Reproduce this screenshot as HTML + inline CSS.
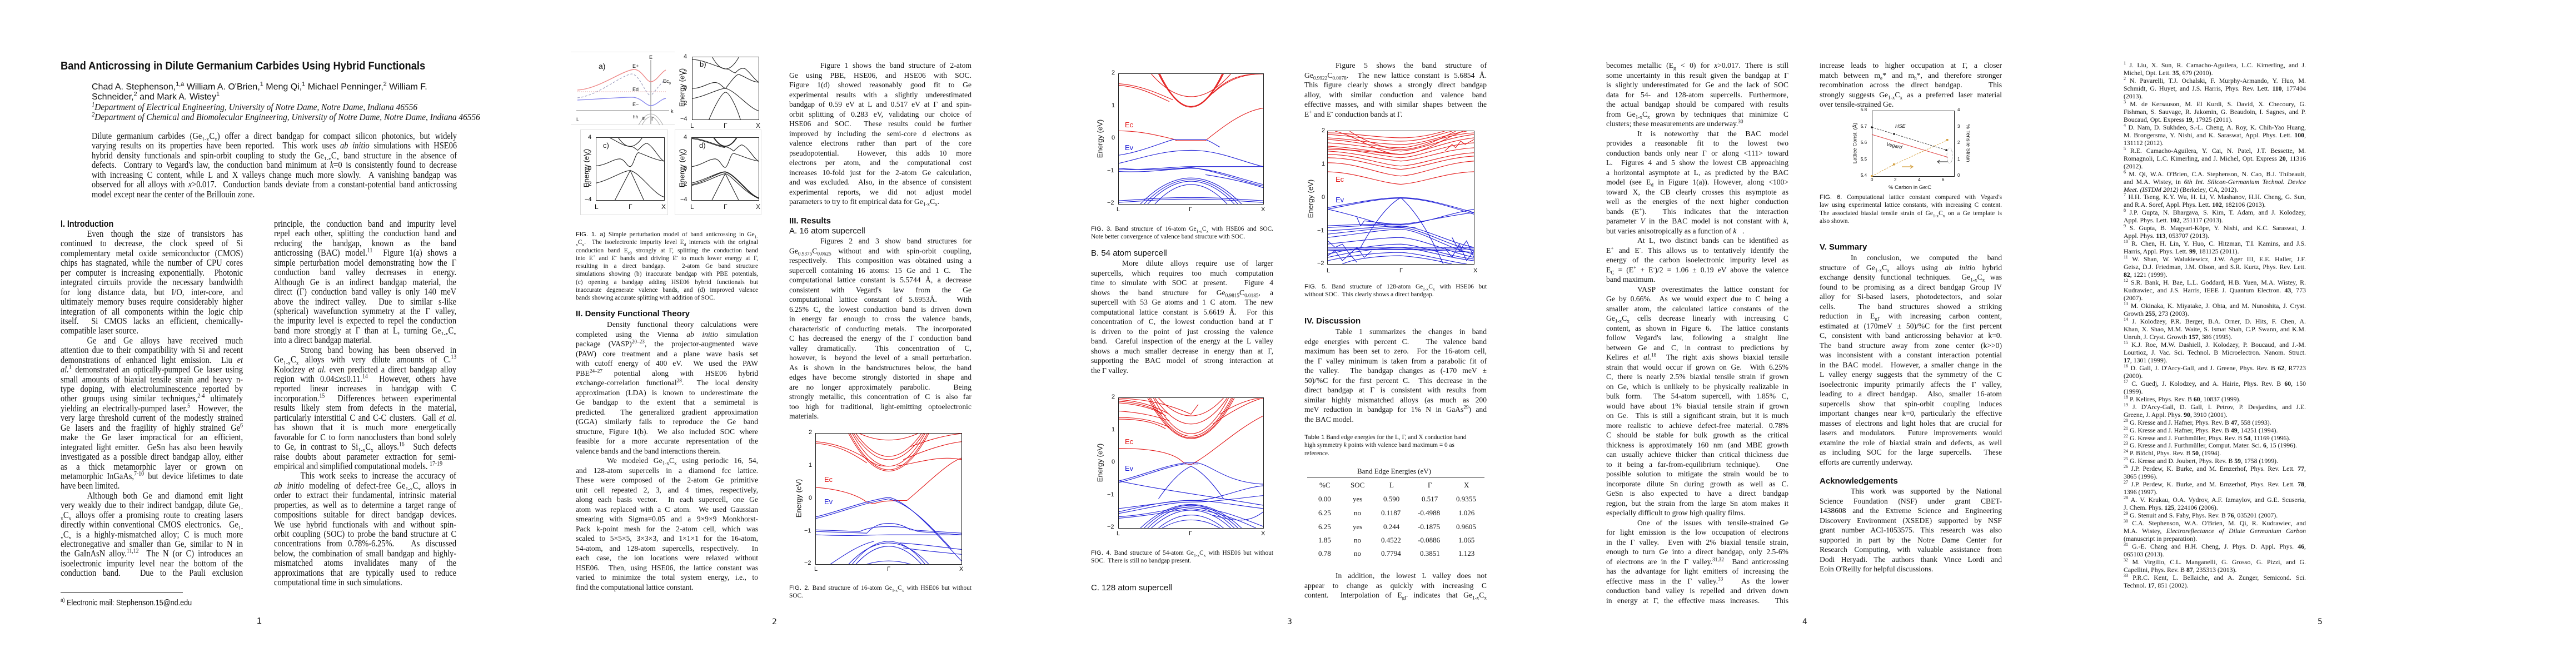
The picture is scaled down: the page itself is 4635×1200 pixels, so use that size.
<!DOCTYPE html>
<html><head><meta charset="utf-8">
<style>
*{box-sizing:border-box}
body{margin:0;width:4635px;height:1200px;background:#fff;position:relative;overflow:hidden;font-family:"Liberation Serif",serif;color:#111}
.pg{position:absolute;top:0;width:927px;height:1200px;background:#fff;overflow:hidden}
.a{position:absolute;white-space:nowrap}
.nar{font-family:"Liberation Sans",sans-serif;transform:scaleX(.84);transform-origin:0 0}
.col{position:absolute;width:328px;font-size:13.6px}
.col p{margin:0;height:17.5px;line-height:17.5px;white-space:nowrap;text-align:justify;text-align-last:justify;overflow:hidden}
.col p.e{text-align-last:left}
.col p.i{padding-left:56px}
.c1{font-size:17px;transform:scaleX(.85);transform-origin:0 0;width:386px}
.c1 p{height:17.45px;line-height:17.45px}
.cap{position:absolute;width:328px;font-size:11.3px}
.cap p{margin:0;height:14.3px;line-height:14.3px;white-space:nowrap;text-align:justify;text-align-last:justify;overflow:hidden}
.cap p.e{text-align-last:left}
.ref{position:absolute;left:113px;top:110px;width:328px;font-size:11.8px}
.ref p{margin:0;height:13.98px;line-height:13.98px;white-space:nowrap;text-align:justify;text-align-last:justify;overflow:hidden}
.ref p.e{text-align-last:left}
sub,sup{font-size:68%;line-height:0}
.sans{font-family:"Liberation Sans",sans-serif}
.h{position:absolute;font-family:"Liberation Sans",sans-serif;font-weight:bold;font-size:15px;white-space:nowrap}
.hs{position:absolute;font-family:"Liberation Sans",sans-serif;font-size:15px;white-space:nowrap}
.pn{position:absolute;top:1111px;left:462px;font-family:"DejaVu Sans",sans-serif;font-size:14px}
.box{position:absolute;border:1px solid #222}
.box svg{position:absolute;left:0;top:0;width:100%;height:100%;overflow:hidden}
.box path{fill:none;vector-effect:non-scaling-stroke;stroke-width:1.1}
.r path{stroke:#e31a1a}
.b path{stroke:#1f1fd6}
.k path{stroke:#222}
.t{position:absolute;font-family:"Liberation Sans",sans-serif;font-size:11px;white-space:nowrap}
.yl{position:absolute;font-family:"Liberation Sans",sans-serif;font-size:13px;white-space:nowrap;transform:rotate(-90deg);transform-origin:center}
</style></head><body>

<!-- ================= PAGE 1 ================= -->
<div class="pg" style="left:0">
<div class="a nar" style="left:109px;top:108px;font-weight:bold;font-size:20px;transform:scaleX(.915)">Band Anticrossing in Dilute Germanium Carbides Using Hybrid Functionals</div>
<div class="a" style="left:165px;top:148px;font-family:'Liberation Sans',sans-serif;font-size:16px;line-height:18px">Chad A. Stephenson,<sup>1,a</sup> William A. O'Brien,<sup>1</sup> Meng Qi,<sup>1</sup> Michael Penninger,<sup>2</sup> William F.<br>Schneider,<sup>2</sup> and Mark A. Wistey<sup>1</sup></div>
<div class="a" style="left:165px;top:184px;font-style:italic;font-size:17px;line-height:18px;transform:scaleX(.905);transform-origin:0 0"><sup>1</sup>Department of Electrical Engineering, University of Notre Dame, Notre Dame, Indiana 46556<br><sup>2</sup>Department of Chemical and Biomolecular Engineering, University of Notre Dame, Notre Dame, Indiana 46556</div>
<div class="col c1" style="left:165px;top:236px;width:773px">
<p>Dilute germanium carbides (Ge<sub>1-x</sub>C<sub>x</sub>) offer a direct bandgap for compact silicon photonics, but widely</p>
<p>varying results on its properties have been reported.&nbsp; This work uses <i>ab initio</i> simulations with HSE06</p>
<p>hybrid density functionals and spin-orbit coupling to study the Ge<sub>1-x</sub>C<sub>x</sub> band structure in the absence of</p>
<p>defects.&nbsp; Contrary to Vegard's law, the conduction band minimum at <i>k</i>=0 is consistently found to decrease</p>
<p>with increasing C content, while L and X valleys change much more slowly.&nbsp; A vanishing bandgap was</p>
<p>observed for all alloys with <i>x</i>&gt;0.017.&nbsp; Conduction bands deviate from a constant-potential band anticrossing</p>
<p class="e">model except near the center of the Brillouin zone.</p>
</div>
<div class="a nar" style="left:109px;top:393px;font-weight:bold;font-size:17px">I. Introduction</div>
<div class="col c1" style="left:109px;top:412px">
<p class="i">Even though the size of transistors has</p>
<p>continued to decrease, the clock speed of Si</p>
<p>complementary metal oxide semiconductor (CMOS)</p>
<p>chips has stagnated, while the number of CPU cores</p>
<p>per computer is increasing exponentially.&nbsp; Photonic</p>
<p>integrated circuits provide the necessary bandwidth</p>
<p>for long distance data, but I/O, inter-core, and</p>
<p>ultimately memory buses require considerably higher</p>
<p>integration of all components within the logic chip</p>
<p>itself.&nbsp; Si CMOS lacks an efficient, chemically-</p>
<p class="e">compatible laser source.</p>
<p class="i">Ge and Ge alloys have received much</p>
<p>attention due to their compatibility with Si and recent</p>
<p>demonstrations of enhanced light emission.&nbsp; Liu <i>et</i></p>
<p><i>al.</i><sup>1</sup> demonstrated an optically-pumped Ge laser using</p>
<p>small amounts of biaxial tensile strain and heavy n-</p>
<p>type doping, with electroluminescence reported by</p>
<p>other groups using similar techniques,<sup>2-4</sup> ultimately</p>
<p>yielding an electrically-pumped laser.<sup>5</sup>&nbsp; However, the</p>
<p>very large threshold current of the modestly strained</p>
<p>Ge lasers and the fragility of highly strained Ge<sup>6</sup></p>
<p>make the Ge laser impractical for an efficient,</p>
<p>integrated light emitter.&nbsp; GeSn has also been heavily</p>
<p>investigated as a possible direct bandgap alloy, either</p>
<p>as a thick metamorphic layer or grown on</p>
<p>metamorphic InGaAs,<sup>7-10</sup> but device lifetimes to date</p>
<p class="e">have been limited.</p>
<p class="i">Although both Ge and diamond emit light</p>
<p>very weakly due to their indirect bandgap, dilute Ge<sub>1-</sub></p>
<p><sub>x</sub>C<sub>x</sub> alloys offer a promising route to creating lasers</p>
<p>directly within conventional CMOS electronics.&nbsp; Ge<sub>1-</sub></p>
<p><sub>x</sub>C<sub>x</sub> is a highly-mismatched alloy; C is much more</p>
<p>electronegative and smaller than Ge, similar to N in</p>
<p>the GaInAsN alloy.<sup>11,12</sup>&nbsp; The N (or C) introduces an</p>
<p>isoelectronic impurity level near the bottom of the</p>
<p>conduction band.&nbsp;&nbsp; Due to the Pauli exclusion</p>
</div>
<div class="col c1" style="left:493px;top:394px">
<p>principle, the conduction band and impurity level</p>
<p>repel each other, splitting the conduction band and</p>
<p>reducing the bandgap, known as the band</p>
<p>anticrossing (BAC) model.<sup>11</sup>&nbsp; Figure 1(a) shows a</p>
<p>simple perturbation model demonstrating how the Γ</p>
<p>conduction band valley decreases in energy.</p>
<p>Although Ge is an indirect bandgap material, the</p>
<p>direct (Γ) conduction band valley is only 140 meV</p>
<p>above the indirect valley.&nbsp; Due to similar s-like</p>
<p>(spherical) wavefunction symmetry at the Γ valley,</p>
<p>the impurity level is expected to repel the conduction</p>
<p>band more strongly at Γ than at L, turning Ge<sub>1-x</sub>C<sub>x</sub></p>
<p class="e">into a direct bandgap material.</p>
<p class="i">Strong band bowing has been observed in</p>
<p>Ge<sub>1-x</sub>C<sub>x</sub> alloys with very dilute amounts of C.<sup>13</sup></p>
<p>Kolodzey <i>et al.</i> even predicted a direct bandgap alloy</p>
<p>region with 0.04≤<i>x</i>≤0.11.<sup>14</sup>&nbsp; However, others have</p>
<p>reported linear increases in bandgap with C</p>
<p>incorporation.<sup>15</sup>&nbsp; Differences between experimental</p>
<p>results likely stem from defects in the material,</p>
<p>particularly interstitial C and C-C clusters.&nbsp; Gall <i>et al.</i></p>
<p>has shown that it is much more energetically</p>
<p>favorable for C to form nanoclusters than bond solely</p>
<p>to Ge, in contrast to Si<sub>1-x</sub>C<sub>x</sub> alloys.<sup>16</sup>&nbsp; Such defects</p>
<p>raise doubts about parameter extraction for semi-</p>
<p class="e">empirical and simplified computational models. <sup>17-19</sup></p>
<p class="i">This work seeks to increase the accuracy of</p>
<p><i>ab initio</i> modeling of defect-free Ge<sub>1-x</sub>C<sub>x</sub> alloys in</p>
<p>order to extract their fundamental, intrinsic material</p>
<p>properties, as well as to determine a target range of</p>
<p>compositions suitable for direct bandgap devices.</p>
<p>We use hybrid functionals with and without spin-</p>
<p>orbit coupling (SOC) to probe the band structure at C</p>
<p>concentrations from 0.78%-6.25%.&nbsp;&nbsp; As discussed</p>
<p>below, the combination of small bandgap and highly-</p>
<p>mismatched atoms invalidates many of the</p>
<p>approximations that are typically used to reduce</p>
<p class="e">computational time in such simulations.</p>
</div>
<div class="a" style="left:109px;top:1066px;width:220px;border-top:1px solid #000"></div>
<div class="a nar" style="left:109px;top:1076px;font-size:15px"><sup>a)</sup> Electronic mail: Stephenson.15@nd.edu</div>
<div class="pn" style="top:1109px;font-family:'Liberation Sans',sans-serif;font-size:16px">1</div>
</div>

<!-- ================= PAGE 2 ================= -->
<div class="pg" style="left:927px">
<div class="a" style="left:100px;top:93px;width:187px;height:132px;border-top:1px solid #ddd;border-bottom:1px solid #ddd"></div>
<svg class="a" style="left:100px;top:93px" width="190" height="135" viewBox="100 93 190 135">
<line x1="110" y1="199" x2="277" y2="199" stroke="#555" stroke-width="0.8"/>
<line x1="244" y1="108" x2="244" y2="223" stroke="#555" stroke-width="0.8"/>
<path d="M112,162 C150,160 190,128 213,125 C228,124 235,147 244,147 C254,147 262,130 271,126" fill="none" stroke="#e88" stroke-width="1.4"/>
<path d="M112,176 C150,172 190,135 210,133 C225,135 235,172 244,172" fill="none" stroke="#99b" stroke-width="1.1" stroke-dasharray="4,3"/>
<path d="M246,170 C255,160 262,150 268,145" fill="none" stroke="#99b" stroke-width="1.1" stroke-dasharray="4,3"/>
<line x1="112" y1="165" x2="272" y2="165" stroke="#d99" stroke-width="0.9" stroke-dasharray="1.5,2"/>
<path d="M112,180 C160,178 200,174 213,175 C228,177 235,190 244,190 C254,190 262,178 271,177" fill="none" stroke="#88e" stroke-width="1.4"/>
<path d="M222,225 Q244,185 266,225 M228,225 Q244,195 260,225" fill="none" stroke="#aaa" stroke-width="1"/>
</svg>
<div class="t" style="left:150px;top:111px;font-size:14px">a)</div>
<div class="t" style="left:211px;top:114px;font-size:9px">E+</div>
<div class="t" style="left:211px;top:156px;font-size:9px">Ed</div>
<div class="t" style="left:211px;top:183px;font-size:9px">E−</div>
<div class="t" style="left:266px;top:141px;font-size:9px">Ec<sub>0</sub></div>
<div class="t" style="left:241px;top:98px;font-size:9px">E</div>
<div class="t" style="left:280px;top:195px;font-size:9px">k</div>
<div class="t" style="left:110px;top:210px;font-size:9px">L</div>
<div class="t" style="left:212px;top:206px;font-size:8px">hh</div>
<div class="t" style="left:228px;top:209px;font-size:8px">lh</div>
<div class="t" style="left:245px;top:209px;font-size:9px">Γ</div>
<div class="box k" style="left:318px;top:102px;width:121px;height:114px"><svg viewBox="0 -4 2 8" preserveAspectRatio="none">
<path d="M0,-3.7 C0.3,-3.7 0.6,-3 1,-2.5"/><path d="M0.6,-4 Q1,-1 1.4,-4"/>
<path d="M1,-2.5 C1.15,-2.5 1.2,-2 1.3,-2 C1.4,-2.5 1.5,-2.7 1.6,-2.5 C1.75,-2 1.9,-1 2,-0.8"/>
<path d="M0,0 C0.3,0 0.5,-0.8 0.7,-0.75 C0.85,-0.7 0.9,-0.1 1,0 C1.1,-0.5 1.3,-1.8 1.4,-1.8 C1.6,-1.5 1.8,-0.8 2,-0.8"/>
<path d="M0,1.3 C0.4,1 0.8,0 1,0 C1.3,0.3 1.7,2.5 2,2.9"/>
<path d="M0.5,4 C0.7,2 0.9,0.5 1,0.5 C1.1,0.5 1.3,2 1.45,4"/></svg></div>
<div class="t" style="left:332px;top:108px;font-size:13px">b)</div>
<div class="t" style="left:303px;top:96px">4</div><div class="t" style="left:303px;top:124px">2</div><div class="t" style="left:303px;top:152px">0</div><div class="t" style="left:297px;top:180px">−2</div><div class="t" style="left:297px;top:208px">−4</div>
<div class="yl" style="left:250px;top:150px;width:100px;text-align:center">Energy (eV)</div>
<div class="t" style="left:315px;top:219px;font-size:12px">L</div><div class="t" style="left:375px;top:219px;font-size:12px">Γ</div><div class="t" style="left:433px;top:219px;font-size:12px">X</div>
<div class="a" style="left:117px;top:233px;width:158px;height:154px;border:1px solid #ddd"></div>
<div class="a" style="left:287px;top:233px;width:156px;height:154px;border:1px solid #ddd"></div>
<div class="box k" style="left:145px;top:247px;width:124px;height:114px"><svg viewBox="0 -4 2 8" preserveAspectRatio="none">
<path d="M0.4,-4 C0.6,-3.6 0.8,-2.9 1,-2.9 C1.1,-2.9 1.15,-2.6 1.22,-2.4 C1.3,-2.7 1.4,-3.3 1.5,-3.3 C1.7,-2.8 1.85,-1.3 2,-1"/>
<path d="M0.65,-4 Q1,-1.8 1.35,-4"/>
<path d="M0,-0.4 C0.3,-0.5 0.5,-1.3 0.7,-1.3 C0.85,-1.2 0.9,-0.3 1,-0.3 C1.1,-0.4 1.15,-2.1 1.25,-2.1 C1.45,-1.8 1.7,-1.2 2,-1"/>
<path d="M0,1.8 C0.4,1.4 0.8,0.2 1,0.2 C1.3,0.5 1.7,3.3 2,3.6"/>
<path d="M0.55,4 L1,0.2 L1.4,4"/></svg></div>
<div class="t" style="left:158px;top:254px;font-size:13px">c)</div>
<div class="t" style="left:131px;top:241px">4</div><div class="t" style="left:131px;top:269px">2</div><div class="t" style="left:131px;top:297px">0</div><div class="t" style="left:125px;top:325px">−2</div><div class="t" style="left:125px;top:353px">−4</div>
<div class="yl" style="left:78px;top:295px;width:100px;text-align:center">Energy (eV)</div>
<div class="t" style="left:143px;top:365px;font-size:12px">L</div><div class="t" style="left:204px;top:365px;font-size:12px">Γ</div><div class="t" style="left:263px;top:365px;font-size:12px">X</div>
<div class="box k" style="left:317px;top:247px;width:122px;height:114px"><svg viewBox="0 -4 2 8" preserveAspectRatio="none">
<path d="M0,-4 C0.4,-3.8 0.8,-2.9 1,-2.85 C1.1,-2.8 1.2,-2.5 1.25,-2.3 C1.35,-2.7 1.45,-3.1 1.5,-3.1 C1.7,-2.8 1.85,-1.3 2,-1"/>
<path d="M0,-3.9 C0.4,-3.7 0.8,-2.8 1,-2.75"/>
<path d="M0.65,-4 Q1,-1.8 1.35,-4"/><path d="M0.67,-4 Q1,-1.9 1.33,-4"/>
<path d="M0,-0.3 C0.3,-0.5 0.5,-1.3 0.7,-1.3 C0.85,-1.2 0.9,-0.2 1,-0.2 C1.1,-0.4 1.15,-2 1.25,-2 C1.45,-1.8 1.7,-1.2 2,-1"/>
<path d="M0,1.8 C0.4,1.4 0.8,0.35 1,0.35 C1.3,0.6 1.7,3.3 2,3.7"/>
<path d="M0,2 C0.4,1.6 0.8,0.4 1,0.4 C1.3,0.7 1.7,3.4 2,3.75"/>
<path d="M0,2.1 C0.4,1.8 0.8,0.7 1,0.6 C1.2,0.8 1.5,2.8 2,3.8"/>
<path d="M0.6,4 L1,0.6 L1.4,4"/></svg></div>
<div class="t" style="left:331px;top:254px;font-size:13px">d)</div>
<div class="t" style="left:303px;top:241px">4</div><div class="t" style="left:303px;top:269px">2</div><div class="t" style="left:303px;top:297px">0</div><div class="t" style="left:297px;top:325px">−2</div><div class="t" style="left:297px;top:353px">−4</div>
<div class="yl" style="left:250px;top:295px;width:100px;text-align:center">Energy (eV)</div>
<div class="t" style="left:315px;top:365px;font-size:12px">L</div><div class="t" style="left:375px;top:365px;font-size:12px">Γ</div><div class="t" style="left:433px;top:365px;font-size:12px">X</div>

<div class="cap" style="left:109px;top:415px">
<p><span class="sans">FIG. 1. a)</span> Simple perturbation model of band anticrossing in Ge<sub>1-</sub></p>
<p><sub>x</sub>C<sub>x</sub>.&nbsp; The isoelectronic impurity level E<sub>d</sub> interacts with the original</p>
<p>conduction band E<sub>c0</sub> strongly at Γ, splitting the conduction band</p>
<p>into E<sup>+</sup> and E<sup>-</sup> bands and driving E<sup>-</sup> to much lower energy at Γ,</p>
<p>resulting in a direct bandgap.&nbsp;&nbsp; 2-atom Ge band structure</p>
<p>simulations showing (b) inaccurate bandgap with PBE potentials,</p>
<p>(c) opening a bandgap adding HSE06 hybrid functionals but</p>
<p>inaccurate degenerate valence bands, and (d) improved valence</p>
<p class="e">bands showing accurate splitting with addition of SOC.</p>
</div>
<div class="h" style="left:109px;top:556px">II. Density Functional Theory</div>
<div class="col" style="left:109px;top:575px">
<p class="i">Density functional theory calculations were</p>
<p>completed using the Vienna <i>ab initio</i> simulation</p>
<p>package (VASP)<sup>20–23</sup>, the projector-augmented wave</p>
<p>(PAW) core treatment and a plane wave basis set</p>
<p>with cutoff energy of 400 eV.&nbsp; We used the PAW</p>
<p>PBE<sup>24–27</sup> potential along with HSE06 hybrid</p>
<p>exchange-correlation functional<sup>28</sup>.&nbsp; The local density</p>
<p>approximation (LDA) is known to underestimate the</p>
<p>Ge bandgap to the extent that a semimetal is</p>
<p>predicted.&nbsp; The generalized gradient approximation</p>
<p>(GGA) similarly fails to reproduce the Ge band</p>
<p>structure, Figure 1(b).&nbsp; We also included SOC where</p>
<p>feasible for a more accurate representation of the</p>
<p class="e">valence bands and the band interactions therein.</p>
<p class="i">We modeled Ge<sub>1-x</sub>C<sub>x</sub> using periodic 16, 54,</p>
<p>and 128-atom supercells in a diamond fcc lattice.</p>
<p>These were composed of the 2-atom Ge primitive</p>
<p>unit cell repeated 2, 3, and 4 times, respectively,</p>
<p>along each basis vector.&nbsp; In each supercell, one Ge</p>
<p>atom was replaced with a C atom.&nbsp; We used Gaussian</p>
<p>smearing with Sigma=0.05 and a 9×9×9 Monkhorst-</p>
<p>Pack k-point mesh for the 2-atom cell, which was</p>
<p>scaled to 5×5×5, 3×3×3, and 1×1×1 for the 16-atom,</p>
<p>54-atom, and 128-atom supercells, respectively.&nbsp; In</p>
<p>each case, the ion locations were relaxed without</p>
<p>HSE06.&nbsp; Then, using HSE06, the lattice constant was</p>
<p>varied to minimize the total system energy, i.e., to</p>
<p class="e">find the computational lattice constant.</p>
</div>
<div class="col" style="left:493px;top:109px">
<p class="i">Figure 1 shows the band structure of 2-atom</p>
<p>Ge using PBE, HSE06, and HSE06 with SOC.</p>
<p>Figure 1(d) showed reasonably good fit to Ge</p>
<p>experimental results with a slightly underestimated</p>
<p>bandgap of 0.59 eV at L and 0.517 eV at Γ and spin-</p>
<p>orbit splitting of 0.283 eV, validating our choice of</p>
<p>HSE06 and SOC.&nbsp; These results could be further</p>
<p>improved by including the semi-core d electrons as</p>
<p>valence electrons rather than part of the core</p>
<p>pseudopotential.&nbsp; However, this adds 10 more</p>
<p>electrons per atom, and the computational cost</p>
<p>increases 10-fold just for the 2-atom Ge calculation,</p>
<p>and was excluded.&nbsp; Also, in the absence of consistent</p>
<p>experimental reports, we did not adjust model</p>
<p class="e">parameters to try to fit empirical data for Ge<sub>1-x</sub>C<sub>x</sub>.</p>
</div>
<div class="h" style="left:493px;top:389px">III. Results</div>
<div class="hs" style="left:493px;top:407px">A. 16 atom supercell</div>
<div class="col" style="left:493px;top:425px">
<p class="i">Figures 2 and 3 show band structures for</p>
<p>Ge<sub>0.9375</sub>C<sub>0.0625</sub> without and with spin-orbit coupling,</p>
<p>respectively.&nbsp; This composition was obtained using a</p>
<p>supercell containing 16 atoms: 15 Ge and 1 C.&nbsp; The</p>
<p>computational lattice constant is 5.5744 Å, a decrease</p>
<p>consistent with Vegard's law from the Ge</p>
<p>computational lattice constant of 5.6953Å.&nbsp;&nbsp; With</p>
<p>6.25% C, the lowest conduction band is driven down</p>
<p>in energy far enough to cross the valence bands,</p>
<p>characteristic of conducting metals.&nbsp; The incorporated</p>
<p>C has decreased the energy of the Γ conduction band</p>
<p>valley dramatically.&nbsp; This concentration of C,</p>
<p>however, is&nbsp; beyond the level of a small perturbation.</p>
<p>As is shown in the bandstructures below, the band</p>
<p>edges have become strongly distorted in shape and</p>
<p>are no longer approximately parabolic.&nbsp;&nbsp; Being</p>
<p>strongly metallic, this concentration of C is also far</p>
<p>too high for traditional, light-emitting optoelectronic</p>
<p class="e">materials.</p>
</div>
<div class="box" style="left:540px;top:779px;width:264px;height:237px"><svg viewBox="0 -2 2 4" preserveAspectRatio="none">
<g class="r">
<path d="M0,-0.35 C0.3,-0.3 0.55,-0.15 0.7,0.1 L0.8,0.15 C0.9,0.05 1.1,0.05 1.25,0.05 C1.5,-0.4 1.8,-1.1 2,-1.25"/>
<path d="M0.45,-2 Q1,0.3 1.55,-2"/><path d="M0.47,-2 Q1,0.22 1.53,-2"/><path d="M0.5,-2 Q1,0 1.5,-2"/><path d="M0.52,-2 Q1,-0.4 1.48,-2"/><path d="M0.55,-2 Q1,-0.6 1.45,-2"/><path d="M0.6,-2 Q1,-1.6 1.4,-2"/>
<path d="M0,-1.75 C0.3,-1.7 0.55,-1.45 0.75,-1.15 C0.85,-1 0.9,-1 1,-1"/>
<path d="M0,-1.7 C0.3,-1.65 0.5,-1.4 0.7,-1.1"/>
<path d="M1.1,-1 C1.4,-1.1 1.7,-1.35 2,-1.2"/><path d="M1.2,-1.2 C1.5,-1.5 1.8,-1.7 2,-1.75"/><path d="M1.3,-1.6 C1.6,-1.85 1.8,-1.95 2,-2"/>
</g><g class="b">
<path d="M0,0.55 C0.3,0.4 0.6,0.1 1,-0.05 C1.3,0.1 1.7,1.2 2,1.9"/>
<path d="M0,0.6 C0.3,0.45 0.6,0.15 1,0 C1.3,0.15 1.6,0.9 1.85,1.5"/>
<path d="M0,1 L0.7,1.05 C0.8,0.8 0.9,0.75 1,0.75 C1.1,0.75 1.2,0.8 1.3,0.95 L2,1.05"/>
<path d="M0,0.95 L0.6,1 C0.75,0.85 0.9,0.85 1,0.85 C1.2,0.85 1.3,0.9 1.4,1 L2,1.1"/>
<path d="M0,1.1 C0.5,1.15 0.8,1.1 1,1.1 L2,1.1"/>
<path d="M0.5,2 Q1,0.6 1.5,2"/><path d="M0.45,2 Q1,0.7 1.55,2"/><path d="M0.55,2 Q1,0.9 1.45,2"/><path d="M0.7,2 Q1,1.8 1.3,2"/>
<path d="M1.15,1.35 C1.5,1.4 1.8,1.5 2,1.55"/><path d="M1.2,1.5 C1.5,1.6 1.8,1.65 2,1.7"/>
<path d="M0.2,2 C0.4,1.7 0.6,1.4 0.8,1.3"/>
</g></svg></div>
<div class="t" style="left:528px;top:772px">2</div><div class="t" style="left:528px;top:831px">1</div><div class="t" style="left:528px;top:890px">0</div><div class="t" style="left:520px;top:949px">−1</div><div class="t" style="left:520px;top:1007px">−2</div>
<div class="yl" style="left:460px;top:889px;width:100px;text-align:center">Energy (eV)</div>
<div class="t" style="left:556px;top:855px;font-size:13px;color:#e31a1a">Ec</div><div class="t" style="left:556px;top:895px;font-size:13px;color:#1f1fd6">Ev</div>
<div class="t" style="left:538px;top:1018px">L</div><div class="t" style="left:669px;top:1018px">Γ</div><div class="t" style="left:799px;top:1018px">X</div>
<div class="cap" style="left:493px;top:1051px">
<p><span class="sans">FIG. 2.</span> Band structure of 16-atom Ge<sub>1-x</sub>C<sub>x</sub> with HSE06 but without</p>
<p class="e">SOC.</p></div>
<div class="pn">2</div>
</div>

<!-- ================= PAGE 3 ================= -->
<div class="pg" style="left:1854px">
<div class="box" style="left:158px;top:132px;width:262px;height:236px"><svg viewBox="0 -2 2 4" preserveAspectRatio="none">
<g class="r">
<path d="M0,-0.25 C0.3,-0.25 0.55,-0.1 0.75,0 L0.8,0.05 L1.2,0.05 C1.4,-0.3 1.7,-0.85 2,-0.95"/>
<path d="M0.45,-2 Q1,-0.6 1.55,-2"/><path d="M0.55,-2 Q1,0 1.45,-2"/><path d="M0.56,-2 Q1,0.05 1.44,-2"/><path d="M0.57,-2 Q1,0 1.43,-2"/>
<path d="M0,-1.7 C0.3,-1.65 0.55,-1.4 0.75,-1.2"/><path d="M0,-1.65 C0.3,-1.6 0.5,-1.35 0.7,-1.15"/>
<path d="M1.3,-1.4 C1.5,-1.8 1.7,-2 2,-2"/><path d="M1.25,-1.3 C1.5,-1.9 1.7,-2 2,-2"/>
</g><g class="b">
<path d="M0,0.5 C0.3,0.4 0.55,0.15 0.75,0.02 L1.2,0.02 C1.3,0.1 1.35,0.2 1.4,0.25"/>
<path d="M0,0.75 C0.3,0.6 0.6,0.35 1,0.35 C1.4,0.35 1.7,0.7 2,0.85"/>
<path d="M0,0.95 C0.4,0.95 0.8,0.85 1,0.85 L2,0.85"/>
<path d="M0,1 C0.4,1.05 0.8,0.9 1,0.9 C1.3,0.9 1.7,1.25 2,1.4"/>
<path d="M0,0.9 C0.5,1 0.8,0.9 1,0.88 C1.3,0.95 1.7,1.3 2,1.45"/>
<path d="M0.3,2 Q1,0.4 1.7,2"/><path d="M0.35,2 Q1,0.5 1.65,2"/><path d="M0.4,2 Q1,0.6 1.6,2"/><path d="M0.5,2 Q1,0.8 1.5,2"/>
<path d="M0,1.9 C0.4,1.85 0.6,1.8 1,1.8 C1.4,1.8 1.6,1.85 2,1.9"/>
<path d="M0,1.95 C0.4,1.9 0.6,1.85 1,1.85 C1.4,1.85 1.6,1.9 2,1.95"/>
<path d="M1.2,1.1 C1.5,1.2 1.8,1.35 2,1.5"/>
</g></svg></div>
<div class="t" style="left:146px;top:125px">2</div><div class="t" style="left:146px;top:184px">1</div><div class="t" style="left:146px;top:242px">0</div><div class="t" style="left:138px;top:301px">−1</div><div class="t" style="left:138px;top:359px">−2</div>
<div class="yl" style="left:75px;top:242px;width:100px;text-align:center">Energy (eV)</div>
<div class="t" style="left:170px;top:217px;font-size:13px;color:#e31a1a">Ec</div><div class="t" style="left:170px;top:258px;font-size:13px;color:#1f1fd6">Ev</div>
<div class="t" style="left:155px;top:371px">L</div><div class="t" style="left:285px;top:371px">Γ</div><div class="t" style="left:415px;top:371px">X</div>
<div class="cap" style="left:109px;top:405px">
<p><span class="sans">FIG. 3.</span> Band structure of 16-atom Ge<sub>1-x</sub>C<sub>x</sub> with HSE06 and SOC.</p>
<p class="e">Note better convergence of valence band structure with SOC.</p></div>
<div class="hs" style="left:109px;top:447px">B. 54 atom supercell</div>
<div class="col" style="left:109px;top:465px">
<p class="i">More dilute alloys require use of larger</p>
<p>supercells, which requires too much computation</p>
<p>time to simulate with SOC at present.&nbsp;&nbsp; Figure 4</p>
<p>shows the band structure for Ge<sub>0.9815</sub>C<sub>0.0185</sub>, a</p>
<p>supercell with 53 Ge atoms and 1 C atom.&nbsp; The new</p>
<p>computational lattice constant is 5.6619 Å.&nbsp; For this</p>
<p>concentration of C, the lowest conduction band at Γ</p>
<p>is driven to the point of just crossing the valence</p>
<p>band.&nbsp; Careful inspection of the energy at the L valley</p>
<p>shows a much smaller decrease in energy than at Γ,</p>
<p>supporting the BAC model of strong interaction at</p>
<p class="e">the Γ valley.</p>
</div>
<div class="box" style="left:158px;top:715px;width:262px;height:236px"><svg viewBox="0 -2 2 4" preserveAspectRatio="none">
<g class="r">
<path d="M0,-0.45 C0.4,-0.45 0.7,-0.35 0.85,-0.1 C0.9,0 0.95,0.05 1,0.05 C1.3,-0.3 1.6,-1.0 2,-1.45"/>
<path d="M0.4,-2 Q1,0.5 1.6,-2"/><path d="M0.42,-2 Q1,0.45 1.58,-2"/><path d="M0.44,-2 Q1,0.35 1.56,-2"/><path d="M0.48,-2 Q1,0.2 1.52,-2"/><path d="M0.5,-2 Q1,-0.4 1.5,-2"/><path d="M0.55,-2 Q1,-0.9 1.45,-2"/>
<path d="M0,-1.95 C0.3,-1.9 0.5,-1.75 0.7,-1.5"/><path d="M0,-1.9 C0.3,-1.85 0.5,-1.7 0.65,-1.45"/><path d="M0,-1.85 C0.3,-1.8 0.5,-1.65 0.6,-1.5"/>
<path d="M0,-1.4 C0.3,-1.4 0.5,-1.3 0.7,-1.1"/><path d="M0,-1.35 C0.3,-1.35 0.5,-1.25 0.65,-1.05"/><path d="M0,-1.6 C0.3,-1.55 0.5,-1.45 0.7,-1.3"/>
<path d="M0,-2 C0.3,-1.95 0.6,-1.9 1,-1.5 L1.1,-1.8"/>
<path d="M1.3,-1.2 C1.5,-1.5 1.8,-1.9 2,-2"/><path d="M1.4,-1.5 C1.6,-1.8 1.8,-1.95 1.95,-2"/>
</g><g class="b">
<path d="M0,0.55 C0.3,0.4 0.6,0.1 0.9,0 C0.95,-0.02 1.05,-0.02 1.1,0 C1.3,0.1 1.5,0.6 2,0.65"/>
<path d="M0,0.6 C0.3,0.45 0.6,0.15 0.9,0.03 L1.1,0.03"/>
<path d="M0,0.55 C0.5,0.8 1.2,1 2,1.3"/>
<path d="M0.55,1.1 Q0.8,0.3 1,0.1 Q1.2,0.3 1.45,1.1"/>
<path d="M0,1.5 C0.4,1.3 0.7,1.15 1,1.15 C1.3,1.15 1.6,1.3 2,1.4"/>
<path d="M0,1.55 C0.4,1.4 0.7,1.2 1,1.2 C1.3,1.2 1.6,1.1 2,1.0"/>
<path d="M0,1.4 C0.4,1.3 0.8,1.15 1,1.15 C1.3,1.2 1.7,0.75 2,0.7"/>
<path d="M0.3,2 Q1,0.55 1.7,2"/><path d="M0.35,2 Q1,0.6 1.65,2"/><path d="M0.4,2 Q1,0.7 1.6,2"/><path d="M0.45,2 Q1,0.9 1.55,2"/><path d="M0.55,2 Q1,1.2 1.45,2"/><path d="M0.6,2 Q1,1.5 1.4,2"/>
<path d="M0,1.65 C0.4,1.6 0.7,1.4 1,1.35 C1.4,1.4 1.7,1.7 2,1.95"/>
<path d="M0,1.7 C0.5,1.6 0.8,1.45 1,1.4 C1.4,1.5 1.7,1.8 1.9,2"/>
<path d="M1.3,1.6 C1.6,1.8 1.8,1.85 2,1.5"/>
</g></svg></div>
<div class="t" style="left:146px;top:708px">2</div><div class="t" style="left:146px;top:767px">1</div><div class="t" style="left:146px;top:825px">0</div><div class="t" style="left:138px;top:884px">−1</div><div class="t" style="left:138px;top:942px">−2</div>
<div class="yl" style="left:75px;top:825px;width:100px;text-align:center">Energy (eV)</div>
<div class="t" style="left:170px;top:787px;font-size:13px;color:#e31a1a">Ec</div><div class="t" style="left:170px;top:835px;font-size:13px;color:#1f1fd6">Ev</div>
<div class="t" style="left:155px;top:954px">L</div><div class="t" style="left:285px;top:954px">Γ</div><div class="t" style="left:415px;top:954px">X</div>
<div class="cap" style="left:109px;top:988px">
<p><span class="sans">FIG. 4.</span> Band structure of 54-atom Ge<sub>1-x</sub>C<sub>x</sub> with HSE06 but without</p>
<p class="e">SOC.&nbsp; There is still no bandgap present.</p></div>
<div class="hs" style="left:109px;top:1049px">C. 128 atom supercell</div>

<div class="col" style="left:493px;top:109px">
<p class="i">Figure 5 shows the band structure of</p>
<p>Ge<sub>0.9922</sub>C<sub>0.0078</sub>.&nbsp; The new lattice constant is 5.6854 Å.</p>
<p>This figure clearly shows a strongly direct bandgap</p>
<p>alloy, with similar conduction and valence band</p>
<p>effective masses, and with similar shapes between the</p>
<p class="e">E<sup>+</sup> and E<sup>-</sup> conduction bands at Γ.</p>
</div>
<div class="box" style="left:534px;top:235px;width:265px;height:241px"><svg viewBox="0 -2 2 4" preserveAspectRatio="none">
<g class="r">
<path d="M0,-0.78 C0.4,-0.75 0.7,-0.45 1,-0.4 C1.3,-0.45 1.6,-0.75 2,-0.78"/>
<path d="M0,-1.05 C0.4,-1.05 0.7,-0.7 1,-0.65 C1.3,-0.7 1.6,-1.05 2,-1.1"/>
<path d="M0,-1.2 C0.4,-1.2 0.7,-0.9 1,-0.85 C1.3,-0.9 1.6,-1.2 2,-1.25"/>
<path d="M0,-1.3 C0.4,-1.3 0.7,-1.0 1,-0.95 C1.3,-1.0 1.6,-1.3 2,-1.35"/>
<path d="M0,-1.4 C0.4,-1.35 0.7,-1.15 1,-1.1 C1.3,-1.15 1.6,-1.45 2,-1.5"/>
<path d="M0,-1.5 C0.4,-1.45 0.7,-1.25 1,-1.2 C1.3,-1.25 1.6,-1.6 2,-1.65"/>
<path d="M0,-1.55 C0.4,-1.5 0.7,-1.35 1,-1.3 C1.3,-1.35 1.6,-1.7 2,-1.8"/>
<path d="M0,-1.65 C0.4,-1.6 0.7,-1.45 1,-1.4 C1.3,-1.45 1.6,-1.8 2,-1.9"/>
<path d="M0,-1.75 C0.4,-1.7 0.7,-1.5 1,-1.5 C1.3,-1.55 1.6,-1.9 2,-1.95"/>
<path d="M0,-1.8 C0.4,-1.75 0.7,-1.6 1,-1.6 C1.3,-1.6 1.6,-1.9 1.9,-2"/>
<path d="M0,-1.9 C0.4,-1.85 0.7,-1.7 1,-1.7 C1.3,-1.7 1.5,-1.9 1.7,-2"/>
<path d="M0,-1.95 C0.3,-1.95 0.7,-1.8 1,-1.8 C1.3,-1.8 1.5,-1.95 1.6,-2"/>
<path d="M0.1,-2 C0.4,-1.85 0.7,-1.3 1,-1.3 C1.3,-1.3 1.6,-1.8 1.85,-2"/>
<path d="M0.3,-2 C0.5,-1.7 0.8,-1.45 1,-1.45 C1.3,-1.45 1.6,-1.85 1.75,-2"/>
<path d="M1.6,-1.4 L1.7,-1.6 L1.75,-1.5 L1.82,-1.7 L1.88,-1.6 L2,-1.75"/>
<path d="M0,-1.45 C0.5,-1.45 0.8,-1.3 1,-1.3"/>
</g><g class="b">
<path d="M0,0.3 C0.4,0.15 0.7,0 1,0 C1.3,0 1.6,0.2 2,0.45"/>
<path d="M0,0.35 C0.4,0.18 0.7,0.02 1,0.02 C1.3,0.02 1.6,0.22 2,0.5"/>
<path d="M0.45,1.5 Q0.75,0.3 1,0 Q1.3,0.6 1.58,2"/>
<path d="M0,0.35 C0.3,0.5 0.6,0.7 0.8,0.85 L1.2,0.9"/>
<path d="M0,0.9 C0.5,0.85 0.8,0.8 1,0.82 C1.3,0.8 1.6,0.5 2,0.35"/>
<path d="M0,0.85 C0.5,0.8 0.8,0.78 1,0.8 C1.3,0.75 1.6,0.55 2,0.45"/>
<path d="M0,1 C0.4,0.95 0.8,0.85 1,0.85 C1.3,0.9 1.6,1.3 2,1.5"/>
<path d="M0,1.1 C0.4,1.0 0.8,0.9 1,0.9 C1.3,0.95 1.6,1.4 2,1.6"/>
<path d="M0,1.2 C0.4,1.1 0.8,0.95 1,0.95 C1.3,1.0 1.6,1.5 2,1.7"/>
<path d="M0,1.4 C0.4,1.3 0.8,1.2 1,1.2 C1.3,1.25 1.6,1.6 2,1.8"/>
<path d="M0,1.5 L2,1.5"/><path d="M0,1.55 L2,1.55"/><path d="M0,1.6 C0.5,1.55 1.5,1.55 2,1.65"/>
<path d="M0,1.7 C0.4,1.5 0.8,1.4 1,1.4 C1.3,1.45 1.6,1.75 2,1.85"/>
<path d="M0,1.8 C0.4,1.6 0.8,1.5 1,1.5 C1.3,1.55 1.6,1.8 2,1.9"/>
<path d="M0,1.9 C0.4,1.7 0.8,1.65 1,1.65 C1.3,1.7 1.6,1.9 1.9,2"/>
<path d="M0.2,2 C0.4,1.8 0.8,1.75 1,1.75 C1.3,1.8 1.5,1.9 1.7,2"/>
<path d="M0,1.3 L0.1,1.5 L0.2,1.4 L0.3,1.7 L0.4,1.5 L0.5,1.8 L0.6,1.6"/>
<path d="M0,1.75 L0.1,1.6 L0.2,1.9 L0.3,1.7 L0.4,1.95"/>
<path d="M1.6,1.5 L1.7,1.8 L1.8,1.4 L1.9,1.9 L2,1.6"/>
<path d="M1.7,1.2 L1.8,1.6 L1.9,1.3 L2,1.8"/>
<path d="M0.4,0.6 L0.45,0.85 L0.5,0.7 L0.9,0.8"/>
</g></svg></div>
<div class="t" style="left:524px;top:229px">2</div><div class="t" style="left:524px;top:289px">1</div><div class="t" style="left:524px;top:349px">0</div><div class="t" style="left:516px;top:409px">−1</div><div class="t" style="left:516px;top:468px">−2</div>
<div class="yl" style="left:454px;top:350px;width:100px;text-align:center">Energy (eV)</div>
<div class="t" style="left:549px;top:315px;font-size:13px;color:#e31a1a">Ec</div><div class="t" style="left:549px;top:352px;font-size:13px;color:#1f1fd6">Ev</div>
<div class="t" style="left:533px;top:481px">L</div><div class="t" style="left:664px;top:481px">Γ</div><div class="t" style="left:797px;top:481px">X</div>
<div class="cap" style="left:493px;top:509px">
<p><span class="sans">FIG. 5.</span> Band structure of 128-atom Ge<sub>1-x</sub>C<sub>x</sub> with HSE06 but</p>
<p class="e">without SOC.&nbsp; This clearly shows a direct bandgap.</p></div>
<div class="h" style="left:493px;top:569px">IV. Discussion</div>
<div class="col" style="left:493px;top:588px">
<p class="i">Table 1 summarizes the changes in band</p>
<p>edge energies with percent C.&nbsp;&nbsp; The valence band</p>
<p>maximum has been set to zero.&nbsp; For the 16-atom cell,</p>
<p>the Γ valley minimum is taken from a parabolic fit of</p>
<p>the valley.&nbsp; The bandgap changes as (-170 meV ±</p>
<p>50)/%C for the first percent C.&nbsp; This decrease in the</p>
<p>direct bandgap at Γ is consistent with results from</p>
<p>similar highly mismatched alloys (as much as 200</p>
<p>meV reduction in bandgap for 1% N in GaAs<sup>29</sup>) and</p>
<p class="e">the BAC model.</p>
</div>
<div class="cap" style="left:493px;top:780px;width:320px">
<p class="e"><span class="sans">Table 1</span> Band edge energies for the L, Γ, and X conduction band</p>
<p class="e">high symmetry <i>k</i> points with valence band maximum = 0 as</p>
<p class="e">reference.</p></div>
<div class="a" style="left:588px;top:840px;font-size:13px">Band Edge Energies (eV)</div>
<div class="a" style="left:498px;top:858px;width:319px;border-top:1.5px solid #111"></div>
<div style="position:absolute;left:0;top:0;font-size:13px">
<div class="a" style="left:520px;top:865px">%C</div><div class="a" style="left:576px;top:865px">SOC</div><div class="a" style="left:646px;top:865px">L</div><div class="a" style="left:715px;top:865px">Γ</div><div class="a" style="left:780px;top:865px">X</div>
<div class="a" style="left:518px;top:890px">0.00</div><div class="a" style="left:580px;top:890px">yes</div><div class="a" style="left:635px;top:890px">0.590</div><div class="a" style="left:704px;top:890px">0.517</div><div class="a" style="left:766px;top:890px">0.9355</div>
<div class="a" style="left:518px;top:915px">6.25</div><div class="a" style="left:582px;top:915px">no</div><div class="a" style="left:631px;top:915px">0.1187</div><div class="a" style="left:697px;top:915px">-0.4988</div><div class="a" style="left:770px;top:915px">1.026</div>
<div class="a" style="left:518px;top:940px">6.25</div><div class="a" style="left:580px;top:940px">yes</div><div class="a" style="left:635px;top:940px">0.244</div><div class="a" style="left:697px;top:940px">-0.1875</div><div class="a" style="left:766px;top:940px">0.9605</div>
<div class="a" style="left:518px;top:964px">1.85</div><div class="a" style="left:582px;top:964px">no</div><div class="a" style="left:631px;top:964px">0.4522</div><div class="a" style="left:697px;top:964px">-0.0886</div><div class="a" style="left:770px;top:964px">1.065</div>
<div class="a" style="left:518px;top:988px">0.78</div><div class="a" style="left:582px;top:988px">no</div><div class="a" style="left:631px;top:988px">0.7794</div><div class="a" style="left:701px;top:988px">0.3851</div><div class="a" style="left:770px;top:988px">1.123</div>
</div>
<div class="col" style="left:493px;top:1027px">
<p class="i">In addition, the lowest L valley does not</p>
<p>appear to change as quickly with increasing C</p>
<p>content.&nbsp; Interpolation of E<sub>gΓ</sub> indicates that Ge<sub>1-x</sub>C<sub>x</sub></p>
</div>
<div class="pn">3</div>
</div>

<!-- ================= PAGE 4 ================= -->
<div class="pg" style="left:2781px">
<div class="col" style="left:109px;top:109px">
<p>becomes metallic (E<sub>g</sub> &lt; 0) for <i>x</i>&gt;0.017. There is still</p>
<p>some uncertainty in this result given the bandgap at Γ</p>
<p>is slightly underestimated for Ge and the lack of SOC</p>
<p>data for 54- and 128-atom supercells. Furthermore,</p>
<p>the actual bandgap should be compared with results</p>
<p>from Ge<sub>1-x</sub>C<sub>x</sub> grown by techniques that minimize C</p>
<p class="e">clusters; these measurements are underway.<sup>30</sup></p>
<p class="i">It is noteworthy that the BAC model</p>
<p>provides a reasonable fit to the lowest two</p>
<p>conduction bands only near Γ or along &lt;111&gt; toward</p>
<p>L.&nbsp; Figures 4 and 5 show the lowest CB approaching</p>
<p>a horizontal asymptote at L, as predicted by the BAC</p>
<p>model (see E<sub>d</sub> in Figure 1(a)). However, along &lt;100&gt;</p>
<p>toward X, the CB clearly crosses this asymptote as</p>
<p>well as the energies of the next higher conduction</p>
<p>bands (E<sup>+</sup>).&nbsp; This indicates that the interaction</p>
<p>parameter <i>V</i> in the BAC model is not constant with <i>k</i>,</p>
<p class="e">but varies anisotropically as a function of <i>k⃗</i>.</p>
<p class="i">At L, two distinct bands can be identified as</p>
<p>E<sup>+</sup> and E<sup>-</sup>. This allows us to tentatively identify the</p>
<p>energy of the carbon isoelectronic impurity level as</p>
<p>E<sub>C</sub> = (E<sup>+</sup> + E<sup>-</sup>)/2 = 1.06 ± 0.19 eV above the valence</p>
<p class="e">band maximum.</p>
<p class="i">VASP overestimates the lattice constant for</p>
<p>Ge by 0.66%.&nbsp; As we would expect due to C being a</p>
<p>smaller atom, the calculated lattice constants of the</p>
<p>Ge<sub>1-x</sub>C<sub>x</sub> cells decrease linearly with increasing C</p>
<p>content, as shown in Figure 6.&nbsp; The lattice constants</p>
<p>follow Vegard's law, following a straight line</p>
<p>between Ge and C, in contrast to predictions by</p>
<p>Kelires <i>et al.</i><sup>18</sup>&nbsp; The right axis shows biaxial tensile</p>
<p>strain that would occur if grown on Ge.&nbsp; With 6.25%</p>
<p>C, there is nearly 2.5% biaxial tensile strain if grown</p>
<p>on Ge, which is unlikely to be physically realizable in</p>
<p>bulk form.&nbsp; The 54-atom supercell, with 1.85% C,</p>
<p>would have about 1% biaxial tensile strain if grown</p>
<p>on Ge.&nbsp; This is still a significant strain, but it is much</p>
<p>more realistic to achieve defect-free material. 0.78%</p>
<p>C should be stable for bulk growth as the critical</p>
<p>thickness is approximately 160 nm (and MBE growth</p>
<p>can usually achieve thicker than critical thickness due</p>
<p>to it being a far-from-equilibrium technique).&nbsp;&nbsp; One</p>
<p>possible solution to mitigate the strain would be to</p>
<p>incorporate dilute Sn during growth as well as C.</p>
<p>GeSn is also expected to have a direct bandgap</p>
<p>region, but the strain from the large Sn atom makes it</p>
<p class="e">especially difficult to grow high quality films.</p>
<p class="i">One of the issues with tensile-strained Ge</p>
<p>for light emission is the low occupation of electrons</p>
<p>in the Γ valley.&nbsp; Even with 2% biaxial tensile strain,</p>
<p>enough to turn Ge into a direct bandgap, only 2.5-6%</p>
<p>of electrons are in the Γ valley.<sup>31,32</sup>&nbsp; Band anticrossing</p>
<p>has the advantage for light emitters of increasing the</p>
<p>effective mass in the Γ valley.<sup>33</sup>&nbsp;&nbsp; As the lower</p>
<p>conduction band valley is repelled and driven down</p>
<p>in energy at Γ, the effective mass increases.&nbsp;&nbsp; This</p>
</div>
<div class="col" style="left:493px;top:109px">
<p>increase leads to higher occupation at Γ, a closer</p>
<p>match between m<sub>e</sub>* and m<sub>h</sub>*, and therefore stronger</p>
<p>recombination across the direct bandgap.&nbsp;&nbsp;&nbsp; This</p>
<p>strongly suggests Ge<sub>1-x</sub>C<sub>x</sub> as a preferred laser material</p>
<p class="e">over tensile-strained Ge.</p>
</div>
<div class="a" style="left:587px;top:199px;width:149px;height:119px;border:1px solid #222"></div>
<svg class="a" style="left:580px;top:195px" width="170" height="130" viewBox="580 195 170 130">
<path d="M587,229 L627,241 L721,270" fill="none" stroke="#333" stroke-width="1" stroke-dasharray="3,2"/>
<circle cx="587" cy="229" r="1.8" fill="#111"/><circle cx="627" cy="241" r="1.8" fill="#111"/><circle cx="721" cy="270" r="1.8" fill="#111"/>
<path d="M587,242 L724,283" fill="none" stroke="#e04040" stroke-width="1"/>
<path d="M587,317 L627,296 L723,252" fill="none" stroke="#d4a040" stroke-width="1" stroke-dasharray="3,2"/>
<rect x="625" y="294" width="3.5" height="3.5" fill="#d4a040"/><rect x="721" y="250" width="3.5" height="3.5" fill="#d4a040"/><rect x="585" y="315" width="3.5" height="3.5" fill="#d4a040"/>
<path d="M641,300 L661,300 M656,297 L661,300 L656,303" fill="none" stroke="#d4a040" stroke-width="1.2"/>
<path d="M724,291 L705,291 M709,288 L705,291 L709,294" fill="none" stroke="#222" stroke-width="1"/>
<ellipse cx="727" cy="280" rx="5" ry="14" fill="none" stroke="#777" stroke-width="0.8" stroke-dasharray="1,1.5"/>
</svg>
<div class="t" style="left:629px;top:222px;font-size:9px;font-style:italic">HSE</div>
<div class="t" style="left:613px;top:257px;font-size:9px;font-style:italic;transform:rotate(12deg)">Vegard</div>
<div class="t" style="left:567px;top:193px;font-size:8px">5.8</div><div class="t" style="left:567px;top:223px;font-size:8px">5.7</div><div class="t" style="left:567px;top:252px;font-size:8px">5.6</div><div class="t" style="left:567px;top:282px;font-size:8px">5.5</div><div class="t" style="left:567px;top:311px;font-size:8px">5.4</div>
<div class="t" style="left:741px;top:193px;font-size:8px">4</div><div class="t" style="left:741px;top:223px;font-size:8px">3</div><div class="t" style="left:741px;top:252px;font-size:8px">2</div><div class="t" style="left:741px;top:282px;font-size:8px">1</div><div class="t" style="left:741px;top:311px;font-size:8px">0</div>
<div class="t" style="left:585px;top:319px;font-size:8px">0</div><div class="t" style="left:627px;top:319px;font-size:8px">2</div><div class="t" style="left:670px;top:319px;font-size:8px">4</div><div class="t" style="left:713px;top:319px;font-size:8px">6</div>
<div class="t" style="left:617px;top:332px;font-size:9.5px">% Carbon in Ge:C</div>
<div class="yl" style="left:507px;top:252px;width:100px;text-align:center;font-size:9.5px">Lattice Const. (Å)</div>
<div class="yl" style="left:710px;top:252px;width:100px;text-align:center;font-size:9.5px;transform:rotate(90deg)">% Tensile Strain</div>
<div class="cap" style="left:493px;top:348px">
<p><span class="sans">FIG. 6.</span> Computational lattice constant compared with Vegard's</p>
<p>law using experimental lattice constants, with increasing C content.</p>
<p>The associated biaxial tensile strain of Ge<sub>1-x</sub>C<sub>x</sub> on a Ge template is</p>
<p class="e">also shown.</p></div>
<div class="h" style="left:493px;top:436px">V. Summary</div>
<div class="col" style="left:493px;top:455px">
<p class="i">In conclusion, we computed the band</p>
<p>structure of Ge<sub>1-x</sub>C<sub>x</sub> alloys using <i>ab initio</i> hybrid</p>
<p>exchange density functional techniques.&nbsp; Ge<sub>1-x</sub>C<sub>x</sub> was</p>
<p>found to be promising as a direct bandgap Group IV</p>
<p>alloy for Si-based lasers, photodetectors, and solar</p>
<p>cells.&nbsp;&nbsp; The band structures showed a striking</p>
<p>reduction in E<sub>gΓ</sub> with increasing carbon content,</p>
<p>estimated at (170meV ± 50)/%C for the first percent</p>
<p>C, consistent with band anticrossing behavior at k=0.</p>
<p>The band structure away from zone center (k&gt;&gt;0)</p>
<p>was inconsistent with a constant interaction potential</p>
<p>in the BAC model.&nbsp; However, a smaller change in the</p>
<p>L valley energy suggests that the symmetry of the C</p>
<p>isoelectronic impurity primarily affects the Γ valley,</p>
<p>leading to a direct bandgap.&nbsp; Also, smaller 16-atom</p>
<p>supercells show that spin-orbit coupling induces</p>
<p>important changes near k=0, particularly the effective</p>
<p>masses of electrons and light holes that are crucial for</p>
<p>lasers and modulators.&nbsp; Future improvements would</p>
<p>examine the role of biaxial strain and defects, as well</p>
<p>as including SOC for the large supercells.&nbsp; These</p>
<p class="e">efforts are currently underway.</p>
</div>
<div class="h" style="left:493px;top:857px">Acknowledgements</div>
<div class="col" style="left:493px;top:875px">
<p class="i">This work was supported by the National</p>
<p>Science Foundation (NSF) under grant CBET-</p>
<p>1438608 and the Extreme Science and Engineering</p>
<p>Discovery Environment (XSEDE) supported by NSF</p>
<p>grant number ACI-1053575. This research was also</p>
<p>supported in part by the Notre Dame Center for</p>
<p>Research Computing, with valuable assistance from</p>
<p>Dodi Heryadi. The authors thank Vince Lordi and</p>
<p class="e">Eoin O'Reilly for helpful discussions.</p>
</div>
<div class="pn">4</div>
</div>

<!-- ================= PAGE 5 ================= -->
<div class="pg" style="left:3708px">
<div class="ref">
<p><sup>1</sup> J. Liu, X. Sun, R. Camacho-Aguilera, L.C. Kimerling, and J.</p>
<p class="e">Michel, Opt. Lett. <b>35</b>, 679 (2010).</p>
<p><sup>2</sup> N. Pavarelli, T.J. Ochalski, F. Murphy-Armando, Y. Huo, M.</p>
<p>Schmidt, G. Huyet, and J.S. Harris, Phys. Rev. Lett. <b>110</b>, 177404</p>
<p class="e">(2013).</p>
<p><sup>3</sup> M. de Kersauson, M. El Kurdi, S. David, X. Checoury, G.</p>
<p>Fishman, S. Sauvage, R. Jakomin, G. Beaudoin, I. Sagnes, and P.</p>
<p class="e">Boucaud, Opt. Express <b>19</b>, 17925 (2011).</p>
<p><sup>4</sup> D. Nam, D. Sukhdeo, S.-L. Cheng, A. Roy, K. Chih-Yao Huang,</p>
<p>M. Brongersma, Y. Nishi, and K. Saraswat, Appl. Phys. Lett. <b>100</b>,</p>
<p class="e">131112 (2012).</p>
<p><sup>5</sup> R.E. Camacho-Aguilera, Y. Cai, N. Patel, J.T. Bessette, M.</p>
<p>Romagnoli, L.C. Kimerling, and J. Michel, Opt. Express <b>20</b>, 11316</p>
<p class="e">(2012).</p>
<p><sup>6</sup> M. Qi, W.A. O'Brien, C.A. Stephenson, N. Cao, B.J. Thibeault,</p>
<p>and M.A. Wistey, in <i>6th Int. Silicon-Germanium Technol. Device</i></p>
<p class="e"><i>Meet. (ISTDM 2012)</i> (Berkeley, CA, 2012).</p>
<p><sup>7</sup> H.H. Tseng, K.Y. Wu, H. Li, V. Mashanov, H.H. Cheng, G. Sun,</p>
<p class="e">and R.A. Soref, Appl. Phys. Lett. <b>102</b>, 182106 (2013).</p>
<p><sup>8</sup> J.P. Gupta, N. Bhargava, S. Kim, T. Adam, and J. Kolodzey,</p>
<p class="e">Appl. Phys. Lett. <b>102</b>, 251117 (2013).</p>
<p><sup>9</sup> S. Gupta, B. Magyari-Köpe, Y. Nishi, and K.C. Saraswat, J.</p>
<p class="e">Appl. Phys. <b>113</b>, 053707 (2013).</p>
<p><sup>10</sup> R. Chen, H. Lin, Y. Huo, C. Hitzman, T.I. Kamins, and J.S.</p>
<p class="e">Harris, Appl. Phys. Lett. <b>99</b>, 181125 (2011).</p>
<p><sup>11</sup> W. Shan, W. Walukiewicz, J.W. Ager III, E.E. Haller, J.F.</p>
<p>Geisz, D.J. Friedman, J.M. Olson, and S.R. Kurtz, Phys. Rev. Lett.</p>
<p class="e"><b>82</b>, 1221 (1999).</p>
<p><sup>12</sup> S.R. Bank, H. Bae, L.L. Goddard, H.B. Yuen, M.A. Wistey, R.</p>
<p>Kudrawiec, and J.S. Harris, IEEE J. Quantum Electron. <b>43</b>, 773</p>
<p class="e">(2007).</p>
<p><sup>13</sup> M. Okinaka, K. Miyatake, J. Ohta, and M. Nunoshita, J. Cryst.</p>
<p class="e">Growth <b>255</b>, 273 (2003).</p>
<p><sup>14</sup> J. Kolodzey, P.R. Berger, B.A. Orner, D. Hits, F. Chen, A.</p>
<p>Khan, X. Shao, M.M. Waite, S. Ismat Shah, C.P. Swann, and K.M.</p>
<p class="e">Unruh, J. Cryst. Growth <b>157</b>, 386 (1995).</p>
<p><sup>15</sup> K.J. Roe, M.W. Dashiell, J. Kolodzey, P. Boucaud, and J.-M.</p>
<p>Lourtioz, J. Vac. Sci. Technol. B Microelectron. Nanom. Struct.</p>
<p class="e"><b>17</b>, 1301 (1999).</p>
<p><sup>16</sup> D. Gall, J. D'Arcy-Gall, and J. Greene, Phys. Rev. B <b>62</b>, R7723</p>
<p class="e">(2000).</p>
<p><sup>17</sup> C. Guedj, J. Kolodzey, and A. Hairie, Phys. Rev. B <b>60</b>, 150</p>
<p class="e">(1999).</p>
<p class="e"><sup>18</sup> P. Kelires, Phys. Rev. B <b>60</b>, 10837 (1999).</p>
<p><sup>19</sup> J. D'Arcy-Gall, D. Gall, I. Petrov, P. Desjardins, and J.E.</p>
<p class="e">Greene, J. Appl. Phys. <b>90</b>, 3910 (2001).</p>
<p class="e"><sup>20</sup> G. Kresse and J. Hafner, Phys. Rev. B <b>47</b>, 558 (1993).</p>
<p class="e"><sup>21</sup> G. Kresse and J. Hafner, Phys. Rev. B <b>49</b>, 14251 (1994).</p>
<p class="e"><sup>22</sup> G. Kresse and J. Furthmüller, Phys. Rev. B <b>54</b>, 11169 (1996).</p>
<p class="e"><sup>23</sup> G. Kresse and J. Furthmüller, Comput. Mater. Sci. <b>6</b>, 15 (1996).</p>
<p class="e"><sup>24</sup> P. Blöchl, Phys. Rev. B <b>50</b>, (1994).</p>
<p class="e"><sup>25</sup> G. Kresse and D. Joubert, Phys. Rev. B <b>59</b>, 1758 (1999).</p>
<p><sup>26</sup> J.P. Perdew, K. Burke, and M. Ernzerhof, Phys. Rev. Lett. <b>77</b>,</p>
<p class="e">3865 (1996).</p>
<p><sup>27</sup> J.P. Perdew, K. Burke, and M. Ernzerhof, Phys. Rev. Lett. <b>78</b>,</p>
<p class="e">1396 (1997).</p>
<p><sup>28</sup> A. V. Krukau, O.A. Vydrov, A.F. Izmaylov, and G.E. Scuseria,</p>
<p class="e">J. Chem. Phys. <b>125</b>, 224106 (2006).</p>
<p class="e"><sup>29</sup> G. Stenuit and S. Fahy, Phys. Rev. B <b>76</b>, 035201 (2007).</p>
<p><sup>30</sup> C.A. Stephenson, W.A. O'Brien, M. Qi, R. Kudrawiec, and</p>
<p>M.A. Wistey, <i>Electroreflectance of Dilute Germanium Carbon</i></p>
<p class="e">(manuscript in preparation).</p>
<p><sup>31</sup> G.-E. Chang and H.H. Cheng, J. Phys. D. Appl. Phys. <b>46</b>,</p>
<p class="e">065103 (2013).</p>
<p><sup>32</sup> M. Virgilio, C.L. Manganelli, G. Grosso, G. Pizzi, and G.</p>
<p class="e">Capellini, Phys. Rev. B <b>87</b>, 235313 (2013).</p>
<p><sup>33</sup> P.R.C. Kent, L. Bellaiche, and A. Zunger, Semicond. Sci.</p>
<p class="e">Technol. <b>17</b>, 851 (2002).</p>
</div>
<div class="pn">5</div>
</div>
</body></html>
